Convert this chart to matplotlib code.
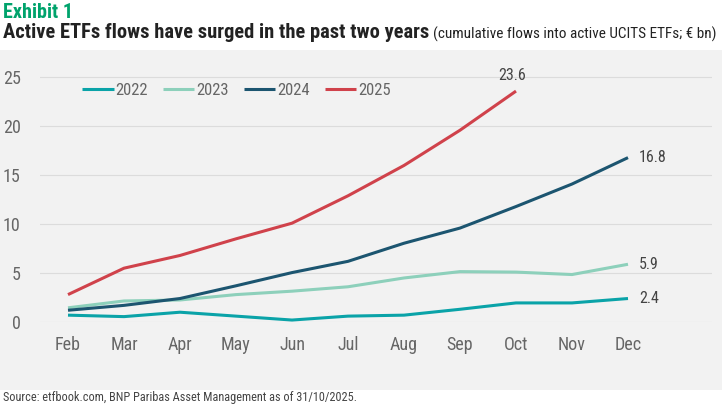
import matplotlib.pyplot as plt
from matplotlib import font_manager

months = ["Feb", "Mar", "Apr", "May", "Jun", "Jul", "Aug", "Sep", "Oct", "Nov", "Dec"]
flows_2022 = [0.7, 0.55, 1.0, 0.6, 0.2, 0.6, 0.7, 1.3, 1.95, 1.95, 2.4]
flows_2023 = [1.45, 2.15, 2.25, 2.8, 3.15, 3.6, 4.5, 5.15, 5.1, 4.85, 5.9]
flows_2024 = [1.2, 1.7, 2.4, 3.7, 5.05, 6.2, 8.05, 9.6, 11.8, 14.1, 16.8]
flows_2025 = [2.8, 5.5, 6.8, 8.5, 10.1, 12.9, 16.0, 19.6, 23.6]

names = {f.name for f in font_manager.fontManager.ttflist}
fam = "Roboto"
for cand in ["Roboto Condensed", "Liberation Sans Narrow", "Open Sans Condensed", "Noto Sans Condensed"]:
    if cand in names:
        fam = cand
        break
plt.rcParams['font.family'] = [fam, 'DejaVu Sans']

bg = "#f2f2f2"
grey = "#666666"
fig = plt.figure(figsize=(7.25, 4.05), dpi=100)
fig.patch.set_facecolor("white")

# grey panel behind the chart
panel = fig.add_axes([0, 15/405, 722/725, 340/405])
panel.set_facecolor(bg)
panel.set_xticks([])
panel.set_yticks([])
for s in panel.spines.values():
    s.set_visible(False)

ax = fig.add_axes([40/725, 83/405, 672/725, 272/405])
ax.patch.set_alpha(0)
x = list(range(len(months)))
series = [("2022", flows_2022, "#0aa3a8"), ("2023", flows_2023, "#8dd0bb"),
          ("2024", flows_2024, "#1c5570"), ("2025", flows_2025, "#d0424b")]
for name, vals, col in series:
    ax.plot(x[:len(vals)], vals, color=col, lw=2.2, label=name, solid_capstyle="butt")

ax.set_xlim(-0.5, 11.5)
ax.set_ylim(0, 27.8)
ax.set_yticks([0, 5, 10, 15, 20, 25])
ax.set_xticks(x)
ax.set_xticklabels(months)
ax.grid(axis="y", color="#dcdcdc", lw=0.8)
ax.set_axisbelow(True)
ax.tick_params(length=0, labelsize=13, colors=grey)
ax.tick_params(axis="x", pad=10)
ax.tick_params(axis="y", pad=14)
for s in ax.spines.values():
    s.set_visible(False)

ax.annotate("23.6", (8, flows_2025[-1]), xytext=(-3, 6), textcoords="offset points",
            ha="center", va="bottom", fontsize=11.5, color="#444444")
for vals in (flows_2024, flows_2023, flows_2022):
    ax.annotate(f"{vals[-1]:.1f}", (10, vals[-1]), xytext=(8, 0), textcoords="offset points",
                ha="left", va="center", fontsize=11.5, color="#444444")

ax.legend(loc="upper left", bbox_to_anchor=(0.04, 0.935), ncol=4, frameon=False,
          fontsize=12, handlelength=1.9, handletextpad=0.1, columnspacing=0.9,
          labelcolor=grey)

fig.text(3/725, 1 - 12/405, "Exhibit 1", fontsize=14.5, fontweight="bold", color="#00a36c", va="center")
t = fig.text(3/725, 1 - 33/405, "Active ETFs flows have surged in the past two years",
             fontsize=14.8, fontweight="bold", color="#222222", va="center")
fig.canvas.draw()
bb = t.get_window_extent()
fig.text(bb.x1 / fig.bbox.width + 4/725, 1 - 34/405, "(cumulative flows into active UCITS ETFs; € bn)",
         fontsize=11, color="#222222", va="center")
fig.text(3/725, 1 - 397/405, "Source: etfbook.com, BNP Paribas Asset Management as of 31/10/2025.",
         fontsize=8.8, color="#444444", va="center")

fig.savefig("out.png", dpi=100, facecolor="white")
